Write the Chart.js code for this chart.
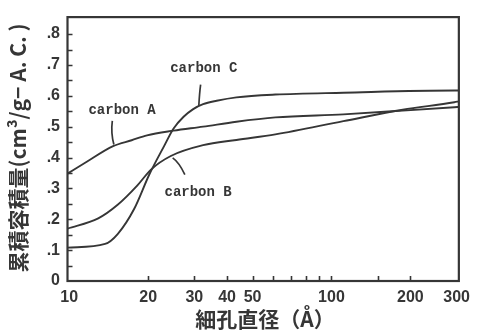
<!DOCTYPE html>
<html>
<head>
<meta charset="utf-8">
<script src="https://cdn.jsdelivr.net/npm/chart.js@4/dist/chart.umd.min.js"></script>
<style>
  html, body { margin: 0; padding: 0; background: #fff; }
  #wrap { width: 477px; height: 330px; }
</style>
</head>
<body>
<div id="wrap"><canvas id="c" width="477" height="330"></canvas></div>
<script>
// Cumulative pore volume (cm3/g-A.C.) against pore diameter (Å)
const poreA = [9.85, 11.5, 14.7, 17.3, 19.8, 25.0, 32.4, 43.4, 61.1, 111, 187, 294, 306];
const volA  = [0.348, 0.383, 0.437, 0.456, 0.472, 0.487, 0.500, 0.516, 0.530, 0.540, 0.552, 0.563, 0.564];

const poreB = [9.85, 12.9, 15.3, 18.2, 20.5, 24.4, 32.4, 43.4, 61.1, 111, 187, 294, 306];
const volB  = [0.170, 0.203, 0.247, 0.310, 0.361, 0.405, 0.440, 0.457, 0.475, 0.518, 0.555, 0.579, 0.582];

const poreC = [9.85, 13.7, 15.3, 17.7, 20.2, 23.0, 25.0, 27.3, 29.7, 32.4, 36.5, 43.4, 61.1, 111, 294, 306];
const volC  = [0.108, 0.120, 0.152, 0.234, 0.345, 0.437, 0.494, 0.532, 0.557, 0.573, 0.584, 0.595, 0.604, 0.610, 0.617, 0.617];

const seriesNames = ['carbon A', 'carbon B', 'carbon C'];

// axis ticks
const xTickMarks  = [20, 30, 40, 50, 60, 70, 80, 90, 100, 150, 200];
const xTickLabels = [10, 20, 30, 40, 50, 100, 200, 300];
const yTickLabels = [0, 0.1, 0.2, 0.3, 0.4, 0.5, 0.6, 0.7, 0.8];
const yTickMarks  = [0.05, 0.1, 0.15, 0.2, 0.25, 0.3, 0.35, 0.4, 0.45, 0.5, 0.55, 0.6, 0.65, 0.7, 0.75, 0.8];

const yTitle = '累積容積量(cm³/g− A. C. )';
const xTitle = '細孔直径（Å）';

// curve captions: text anchor and leader line, in data units [pore, volume]
const captions = [
  { text: seriesNames[0], at: [15.9, 0.554], lead: [[14.6, 0.519], [14.4, 0.48], [14.8, 0.442]] },
  { text: seriesNames[1], at: [31.0, 0.288], lead: [[24.8, 0.399], [26.2, 0.385], [27.6, 0.345]] },
  { text: seriesNames[2], at: [32.6, 0.687], lead: [[31.7, 0.636], [31.4, 0.61], [31.2, 0.568]] }
];

const INK = '#363636';

const toPts = (xs, ys) => xs.map((x, i) => ({ x: x, y: ys[i] }));

const frameAndNotes = {
  id: 'frameAndNotes',
  afterDatasetsDraw(chart) {
    const { ctx, chartArea: a, scales: { x, y } } = chart;
    ctx.save();
    ctx.strokeStyle = INK;
    ctx.lineCap = 'butt';

    // inward tick marks
    ctx.lineWidth = 1.6;
    ctx.beginPath();
    yTickMarks.forEach(v => {
      const py = Math.round(y.getPixelForValue(v)) + 0.5;
      ctx.moveTo(a.left, py);
      ctx.lineTo(a.left + 5, py);
    });
    xTickMarks.forEach(v => {
      const px = Math.round(x.getPixelForValue(v)) + 0.5;
      ctx.moveTo(px, a.bottom);
      ctx.lineTo(px, a.bottom - 5);
    });
    ctx.stroke();

    // frame
    ctx.lineWidth = 2.2;
    ctx.strokeRect(a.left, a.top, a.right - a.left, a.bottom - a.top);

    // captions
    ctx.fillStyle = INK;
    ctx.font = 'bold 14px "Liberation Mono", "DejaVu Sans Mono", monospace';
    ctx.textAlign = 'center';
    ctx.textBaseline = 'middle';
    ctx.lineWidth = 1.7;
    captions.forEach(c => {
      ctx.fillText(c.text, x.getPixelForValue(c.at[0]), y.getPixelForValue(c.at[1]));
      const p = c.lead.map(q => [x.getPixelForValue(q[0]), y.getPixelForValue(q[1])]);
      ctx.beginPath();
      ctx.moveTo(p[0][0], p[0][1]);
      ctx.quadraticCurveTo(p[1][0], p[1][1], p[2][0], p[2][1]);
      ctx.stroke();
    });

    // axis titles
    ctx.font = 'bold 21px "Noto Sans CJK JP", sans-serif';
    ctx.save();
    ctx.translate(18, 148);
    ctx.rotate(-Math.PI / 2);
    ctx.fillText(yTitle, 0, 0);
    ctx.restore();
    ctx.fillText(xTitle, 265, 319);
    ctx.restore();
  }
};

const lineStyle = {
  borderColor: INK,
  borderWidth: 1.9,
  pointRadius: 0,
  fill: false,
  cubicInterpolationMode: 'monotone'
};

new Chart(document.getElementById('c'), {
  type: 'line',
  data: {
    datasets: [
      Object.assign({ label: seriesNames[0], data: toPts(poreA, volA) }, lineStyle),
      Object.assign({ label: seriesNames[1], data: toPts(poreB, volB) }, lineStyle),
      Object.assign({ label: seriesNames[2], data: toPts(poreC, volC) }, lineStyle)
    ]
  },
  options: {
    responsive: false,
    animation: false,
    devicePixelRatio: 1,
    layout: { padding: { left: 0, top: 11, right: 9.5, bottom: 0 } },
    plugins: { legend: { display: false }, tooltip: { enabled: false } },
    scales: {
      x: {
        type: 'logarithmic',
        min: 9.85,
        max: 306,
        grid: { display: false, drawTicks: false },
        border: { display: false },
        afterBuildTicks: s => { s.ticks = xTickLabels.map(v => ({ value: v })); },
        afterFit: s => { s.height = 49; },
        ticks: {
          autoSkip: false,
          maxRotation: 0,
          padding: 7,
          color: INK,
          font: { family: '"Liberation Sans", Arial, sans-serif', size: 16, weight: 'bold' },
          callback: v => String(v)
        }
      },
      y: {
        type: 'linear',
        min: 0,
        max: 0.855,
        grid: { display: false, drawTicks: false },
        border: { display: false },
        afterBuildTicks: s => { s.ticks = yTickLabels.map(v => ({ value: v })); },
        afterFit: s => { s.width = 67.5; },
        ticks: {
          padding: 7.5,
          color: INK,
          font: { family: '"Liberation Sans", Arial, sans-serif', size: 16, weight: 'bold' },
          callback: v => (v === 0 ? '0' : '.' + Math.round(v * 10))
        }
      }
    }
  },
  plugins: [frameAndNotes]
});
</script>
</body>
</html>
